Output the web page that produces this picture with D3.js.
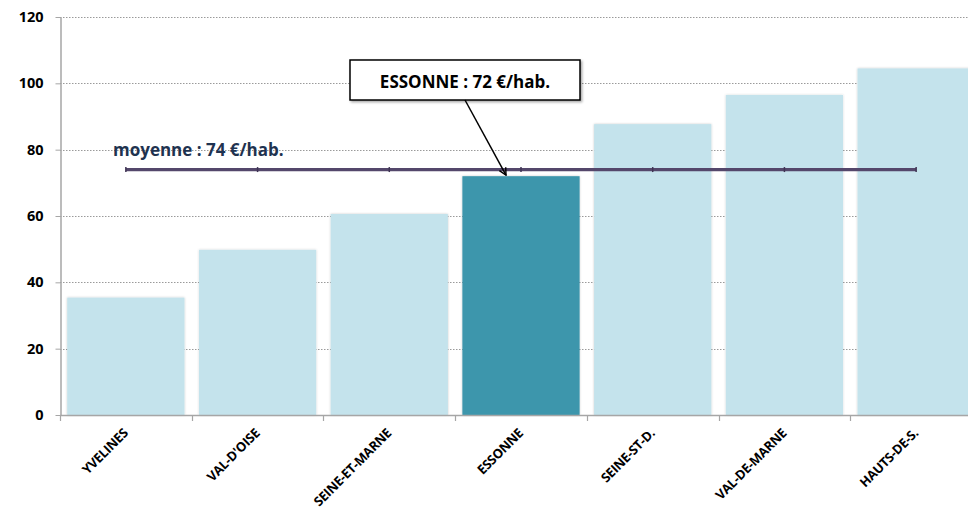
<!DOCTYPE html>
<html>
<head>
<meta charset="utf-8">
<script src="https://cdn.jsdelivr.net/npm/d3@7"></script>
<style>
  html, body { margin: 0; padding: 0; background: #fff; }
  svg { display: block; font-family: "Open Sans", sans-serif; }
</style>
</head>
<body>
<svg id="chart" width="968" height="512"></svg>
<script>
// Dépense par habitant, par département
const departements = ["YVELINES", "VAL-D'OISE", "SEINE-ET-MARNE", "ESSONNE", "SEINE-ST-D.", "VAL-DE-MARNE", "HAUTS-DE-S."];
const valeurs = [35.4, 49.8, 60.6, 72, 87.7, 96.5, 104.5];
const moyenne = 74;
const yTicks = [0, 20, 40, 60, 80, 100, 120];
const focus = "ESSONNE";
const libelleMoyenne = "moyenne : 74 €/hab.";
const libelleFocus = "ESSONNE : 72 €/hab.";

const svg = d3.select("#chart");

const margin = { left: 60, top: 17, bottom: 97 };
const plotBottom = 512 - margin.bottom;

const x = d3.scaleBand()
  .domain(departements)
  .range([margin.left, 982])
  .paddingInner(0.11)
  .paddingOuter(0.055);

const y = d3.scaleLinear()
  .domain([0, 120])
  .range([plotBottom, margin.top]);

const defs = svg.append("defs");
const barShadow = defs.append("filter").attr("id", "barShadow")
  .attr("x", "-10%").attr("y", "-10%").attr("width", "120%").attr("height", "120%");
barShadow.append("feDropShadow").attr("dx", 0).attr("dy", 0).attr("stdDeviation", 1.3)
  .attr("flood-color", "#000").attr("flood-opacity", 0.22);

const boxShadow = defs.append("filter").attr("id", "boxShadow")
  .attr("x", "-10%").attr("y", "-20%").attr("width", "120%").attr("height", "150%");
boxShadow.append("feDropShadow").attr("dx", 1.5).attr("dy", 1.5).attr("stdDeviation", 1.2)
  .attr("flood-color", "#000").attr("flood-opacity", 0.35);

defs.append("marker").attr("id", "arrow")
  .attr("viewBox", "0 0 10 10").attr("refX", 9).attr("refY", 5)
  .attr("markerWidth", 9).attr("markerHeight", 9).attr("orient", "auto")
  .attr("markerUnits", "userSpaceOnUse")
  .append("path").attr("d", "M1,1 L9,5 L1,9").attr("fill", "none")
  .attr("stroke", "#000").attr("stroke-width", 1.6);

// Grille horizontale pointillée
svg.append("g")
  .selectAll("line")
  .data(yTicks.filter(d => d > 0))
  .join("line")
  .attr("x1", margin.left).attr("x2", 968)
  .attr("y1", d => Math.round(y(d)) + 0.5).attr("y2", d => Math.round(y(d)) + 0.5)
  .attr("stroke", "#9a9a9a").attr("stroke-width", 1)
  .attr("stroke-dasharray", "1.5,1.5");

// Barres
svg.append("g")
  .selectAll("rect")
  .data(departements.map((d, i) => ({ d, v: valeurs[i] })))
  .join("rect")
  .attr("x", o => x(o.d))
  .attr("y", o => y(o.v))
  .attr("width", x.bandwidth())
  .attr("height", o => y(0) - y(o.v))
  .attr("fill", o => o.d === focus ? "#3c96ac" : "#c4e3ec")
  .attr("filter", "url(#barShadow)");

// Axe Y
const yAxis = svg.append("g")
  .attr("transform", `translate(${margin.left + 0.5},0)`)
  .call(d3.axisLeft(y).tickValues(yTicks).tickSize(5).tickSizeOuter(0).tickPadding(12));
yAxis.select(".domain").attr("stroke", "#a6a6a6").attr("stroke-width", 1.5);
yAxis.selectAll(".tick line").attr("stroke", "#a6a6a6");
yAxis.selectAll(".tick text")
  .attr("font-family", "'Open Sans', sans-serif")
  .attr("font-weight", "bold").attr("font-size", 14.5).attr("fill", "#000");

// Axe X : ligne de base et graduations entre catégories
const step = x.step();
const bounds = d3.range(departements.length + 1).map(i => margin.left + i * step);
svg.append("line")
  .attr("x1", margin.left).attr("x2", 968)
  .attr("y1", plotBottom + 0.5).attr("y2", plotBottom + 0.5)
  .attr("stroke", "#a6a6a6").attr("stroke-width", 1.5);
svg.append("g")
  .selectAll("line")
  .data(bounds)
  .join("line")
  .attr("x1", d => Math.round(d) + 0.5).attr("x2", d => Math.round(d) + 0.5)
  .attr("y1", plotBottom).attr("y2", plotBottom + 6)
  .attr("stroke", "#a6a6a6").attr("stroke-width", 1.2);

// Libellés des catégories inclinés
svg.append("g")
  .selectAll("text")
  .data(departements)
  .join("text")
  .attr("transform", d => `translate(${x(d) + x.bandwidth() / 2 + 3},${plotBottom + 19}) rotate(-45)`)
  .attr("text-anchor", "end")
  .attr("font-weight", "bold").attr("font-size", 13).attr("fill", "#000")
  .attr("letter-spacing", -0.3)
  .text(d => d);

// Ligne de la moyenne
const cx = d => x(d) + x.bandwidth() / 2;
const first = departements[0], last = departements[departements.length - 1];
svg.append("line")
  .attr("x1", cx(first)).attr("x2", cx(last))
  .attr("y1", y(moyenne)).attr("y2", y(moyenne))
  .attr("stroke", "#54476b").attr("stroke-width", 3.2);
svg.append("g")
  .selectAll("line")
  .data(departements)
  .join("line")
  .attr("x1", d => cx(d)).attr("x2", d => cx(d))
  .attr("y1", y(moyenne) - 2.5).attr("y2", y(moyenne) + 2.5)
  .attr("stroke", "#3f3454").attr("stroke-width", 1.5);

svg.append("text")
  .attr("x", 113).attr("y", y(moyenne) - 14)
  .attr("font-weight", "bold").attr("font-size", 17).attr("fill", "#1f3350")
  .text(libelleMoyenne);

// Encadré pour l'Essonne
const box = { x: 350, y: 60, w: 230, h: 40 };
svg.append("rect")
  .attr("x", box.x).attr("y", box.y).attr("width", box.w).attr("height", box.h)
  .attr("fill", "#fff").attr("stroke", "#000").attr("stroke-width", 1.5)
  .attr("filter", "url(#boxShadow)");
svg.append("text")
  .attr("x", box.x + box.w / 2).attr("y", box.y + 28)
  .attr("text-anchor", "middle")
  .attr("font-weight", "bold").attr("font-size", 17).attr("fill", "#000")
  .text(libelleFocus);
svg.append("line")
  .attr("x1", 465).attr("y1", box.y + box.h)
  .attr("x2", cx(focus) - 15).attr("y2", y(valeurs[departements.indexOf(focus)]) - 1)
  .attr("stroke", "#000").attr("stroke-width", 1.5)
  .attr("marker-end", "url(#arrow)");
</script>
</body>
</html>
